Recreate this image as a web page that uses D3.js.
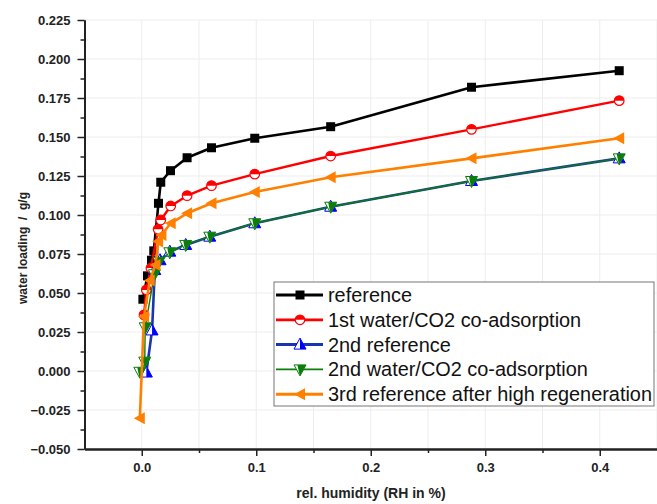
<!DOCTYPE html>
<html>
<head>
<meta charset="utf-8">
<script src="https://cdn.jsdelivr.net/npm/d3@7"></script>
<style>
  body { margin: 0; background: #fff; }
  svg { display: block; font-family: "Liberation Sans", Arial, sans-serif; }
</style>
</head>
<body>
<script>
// water sorption isotherms, rel. humidity vs. loading
var reference = [[0.001,0.046],[0.005,0.061],[0.0085,0.071],[0.0105,0.077],[0.0146,0.1075],[0.0166,0.121],
    [0.0251,0.1284],[0.0396,0.1367],[0.0609,0.1431],[0.0987,0.1492],[0.165,0.1566],[0.288,0.1819],[0.417,0.1925]];
var firstCoAds = [[0.002,0.036],[0.004,0.052],[0.008,0.066],[0.0143,0.0908],[0.0166,0.0968],[0.0253,0.1058],
    [0.0396,0.1124],[0.0609,0.1188],[0.0987,0.1262],[0.165,0.1378],[0.288,0.1549],[0.417,0.1733]];
var secondRef = [[0.004,-0.001],[0.009,0.026],[0.0114,0.0647],[0.016,0.071],[0.0245,0.0765],[0.0384,0.0808],
    [0.0594,0.0861],[0.0987,0.0947],[0.165,0.1053],[0.288,0.1218],[0.417,0.1363]];
var secondCoAds = [[-0.0017,-0.0005],[0.0026,0.006],[0.003,0.028],[0.011,0.062],[0.015,0.070],[0.0245,0.0761],
    [0.0384,0.0808],[0.0594,0.0861],[0.0987,0.0947],[0.165,0.1053],[0.288,0.1218],[0.417,0.1363]];
var thirdRef = [[-0.0017,-0.0303],[0.002,0.035],[0.007,0.058],[0.012,0.068],[0.0143,0.083],[0.0172,0.0872],
    [0.0253,0.0947],[0.0396,0.1011],[0.0609,0.1075],[0.0987,0.1147],[0.165,0.1242],[0.288,0.1363],[0.417,0.1492]];

var seriesNames = ["reference", "1st water/CO2 co-adsorption", "2nd reference",
    "2nd water/CO2 co-adsorption", "3rd reference after high regeneration"];
var xTicks = [0.0, 0.1, 0.2, 0.3, 0.4];
var yTicks = [-0.05, -0.025, 0, 0.025, 0.05, 0.075, 0.1, 0.125, 0.15, 0.175, 0.2, 0.225];

var w = 657, h = 504;
var plotL = 84.5, plotR = 657, plotT = 20, plotB = 449;

var x = d3.scaleLinear().domain([-0.05, 0.45]).range([plotL, plotR]);
var y = d3.scaleLinear().domain([-0.05, 0.225]).range([plotB, plotT]);

var svg = d3.select("body").append("svg")
    .attr("width", w)
    .attr("height", h);

// faint grid
svg.append("g").selectAll("line")
    .data(d3.range(-0.05, 0.451, 0.05))
    .enter().append("line")
    .attr("x1", function(d){ return x(d); })
    .attr("x2", function(d){ return x(d); })
    .attr("y1", plotT).attr("y2", plotB)
    .attr("stroke", "#ededed").attr("stroke-width", 1);
svg.append("g").selectAll("line")
    .data(yTicks)
    .enter().append("line")
    .attr("x1", plotL).attr("x2", plotR)
    .attr("y1", function(d){ return y(d); })
    .attr("y2", function(d){ return y(d); })
    .attr("stroke", "#ededed").attr("stroke-width", 1);

// axes
svg.append("g")
    .attr("transform", "translate(0," + plotB + ")")
    .call(d3.axisBottom(x).tickValues(xTicks).tickFormat(d3.format(".1f")).tickSizeInner(7).tickSizeOuter(0).tickPadding(7));
svg.append("g")
    .attr("transform", "translate(0," + plotB + ")")
    .call(d3.axisBottom(x).tickValues([0.05, 0.15, 0.25, 0.35]).tickFormat("").tickSizeInner(4).tickSizeOuter(0));
svg.append("g")
    .attr("transform", "translate(" + plotL + ",0)")
    .call(d3.axisLeft(y).tickValues(yTicks).tickFormat(d3.format(".3f")).tickSizeInner(7).tickSizeOuter(0).tickPadding(7));
svg.append("g")
    .attr("transform", "translate(" + plotL + ",0)")
    .call(d3.axisLeft(y).tickValues(d3.range(-0.0375, 0.225, 0.025)).tickFormat("").tickSizeInner(4).tickSizeOuter(0));

svg.selectAll(".domain").attr("stroke", "#222").attr("stroke-width", 2);
svg.selectAll(".tick line").attr("stroke", "#222").attr("stroke-width", 1.5);
svg.selectAll(".tick text")
    .attr("font-family", "Liberation Sans, Arial, sans-serif")
    .attr("font-size", "13px")
    .attr("font-weight", "bold")
    .attr("fill", "#222");

svg.append("text")
    .attr("x", 371).attr("y", 498)
    .attr("text-anchor", "middle")
    .attr("font-size", "14px").attr("font-weight", "bold").attr("fill", "#222")
    .text("rel. humidity (RH in %)");
svg.append("text")
    .attr("transform", "translate(27,248) rotate(-90)")
    .attr("text-anchor", "middle")
    .attr("font-size", "12px").attr("font-weight", "bold").attr("fill", "#222")
    .style("white-space", "pre")
    .text("water loading  /  g/g");

// marker drawing helpers
function drawMarker(g, kind) {
    if (kind == "square") {
        g.append("rect").attr("x", -4.5).attr("y", -4.5).attr("width", 9).attr("height", 9).attr("fill", "#000");
    } else if (kind == "circle") {
        g.append("circle").attr("r", 4.8).attr("fill", "#fff").attr("stroke", "#ff0000").attr("stroke-width", 1.2);
        g.append("path").attr("d", "M-4.8,0 A4.8,4.8 0 0 1 4.8,0 Z").attr("fill", "#ff0000");
    } else if (kind == "up") {
        g.append("path").attr("d", "M0,-6.5 L6,4.5 L-6,4.5 Z").attr("fill", "#fff").attr("stroke", "#0000ff").attr("stroke-width", 1);
        g.append("path").attr("d", "M0,-6.5 L6,4.5 L0,4.5 Z").attr("fill", "#0000ff");
    } else if (kind == "down") {
        g.append("path").attr("d", "M-6,-4.5 L6,-4.5 L0,6.5 Z").attr("fill", "#fff").attr("stroke", "#0a7d0a").attr("stroke-width", 1);
        g.append("path").attr("d", "M-2.5,-4.5 L6,-4.5 L0,6.5 L-1.5,1 Z").attr("fill", "#0a7d0a");
    } else if (kind == "left") {
        g.append("path").attr("d", "M-6,0 L5,-6 L5,6 Z").attr("fill", "#ff8000");
    }
}

var series = [
    {name: seriesNames[0], data: reference, color: "#000000", width: 2.6, marker: "square"},
    {name: seriesNames[1], data: firstCoAds, color: "#ff0000", width: 2.4, marker: "circle"},
    {name: seriesNames[2], data: secondRef, color: "#1a35b0", width: 2.6, marker: "up"},
    {name: seriesNames[3], data: secondCoAds, color: "#0a7d0a", width: 1.4, marker: "down"},
    {name: seriesNames[4], data: thirdRef, color: "#ff8000", width: 2.6, marker: "left"}
];

var line = d3.line()
    .x(function(d){ return x(d[0]); })
    .y(function(d){ return y(d[1]); });

series.forEach(function(s) {
    var g = svg.append("g");
    g.append("path")
        .datum(s.data)
        .attr("d", line)
        .attr("fill", "none")
        .attr("stroke", s.color)
        .attr("stroke-width", s.width)
        .attr("stroke-linejoin", "round");
    g.selectAll("g.pt")
        .data(s.data)
        .enter().append("g")
        .attr("class", "pt")
        .attr("transform", function(d){ return "translate(" + x(d[0]) + "," + y(d[1]) + ")"; })
        .each(function(){ drawMarker(d3.select(this), s.marker); });
});

// legend
var lg = svg.append("g").attr("transform", "translate(274,282)");
lg.append("rect")
    .attr("width", 380).attr("height", 124)
    .attr("fill", "#fff").attr("stroke", "#777").attr("stroke-width", 1);
series.forEach(function(s, i) {
    var row = lg.append("g").attr("transform", "translate(0," + (13 + i * 24.8) + ")");
    row.append("line")
        .attr("x1", 2).attr("x2", 49).attr("y1", 0).attr("y2", 0)
        .attr("stroke", s.color).attr("stroke-width", s.width + 0.4);
    drawMarker(row.append("g").attr("transform", "translate(26,0)"), s.marker);
    row.append("text")
        .attr("x", 54).attr("y", 7)
        .attr("font-size", "19.9px").attr("fill", "#111")
        .text(s.name);
});
</script>
</body>
</html>
